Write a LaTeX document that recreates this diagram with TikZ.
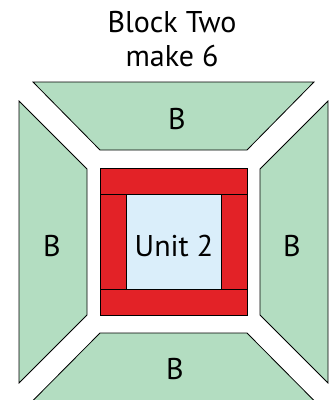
\documentclass[tikz,border=0pt]{standalone}
\usepackage{fontspec}
\setmainfont{PT Sans}
\definecolor{piecegreen}{HTML}{B3DDC1}
\definecolor{piecered}{HTML}{E32227}
\definecolor{pieceblue}{HTML}{DAEEFA}
\begin{document}
\begin{tikzpicture}[x=1pt,y=-1pt,
  green piece/.style={draw=black,line width=0.8pt,fill=piecegreen,line join=miter},
  red piece/.style={draw=black,line width=0.8pt,fill=piecered},
  blue piece/.style={draw=black,line width=0.8pt,fill=pieceblue},
  lbl/.style={font=\fontsize{30}{34}\selectfont,inner sep=0pt,anchor=center}]
\useasboundingbox (0,0) rectangle (332,400);
% green trapezoids
\draw[green piece] (33,82) -- (314,82) -- (247,150) -- (100,150) -- cycle;
\draw[green piece] (100,333) -- (247,333) -- (314,400.5) -- (33,400.5) -- cycle;
\draw[green piece] (19,101) -- (87,169) -- (87,315) -- (19,383) -- cycle;
\draw[green piece] (328,101) -- (260,169) -- (260,315) -- (328,383) -- cycle;
% unit 2
\draw[blue piece] (126,194) rectangle (221,289);
\draw[red piece] (100,168) rectangle (247,194);
\draw[red piece] (100,289) rectangle (247,315);
\draw[red piece] (100,194) rectangle (126,289);
\draw[red piece] (221,194) rectangle (247,289);
% labels
\node[lbl] (title1) at (172,22) {Block Two};
\node[lbl] (title2) at (172,56) {make 6};
\node[lbl] (btop) at (177,119) {B};
\node[lbl] (bleft) at (52,246) {B};
\node[lbl] (bright) at (292,246) {B};
\node[lbl] (bbottom) at (175,369) {B};
\node[lbl] (unit) at (174,246) {Unit 2};
\end{tikzpicture}
\end{document}
